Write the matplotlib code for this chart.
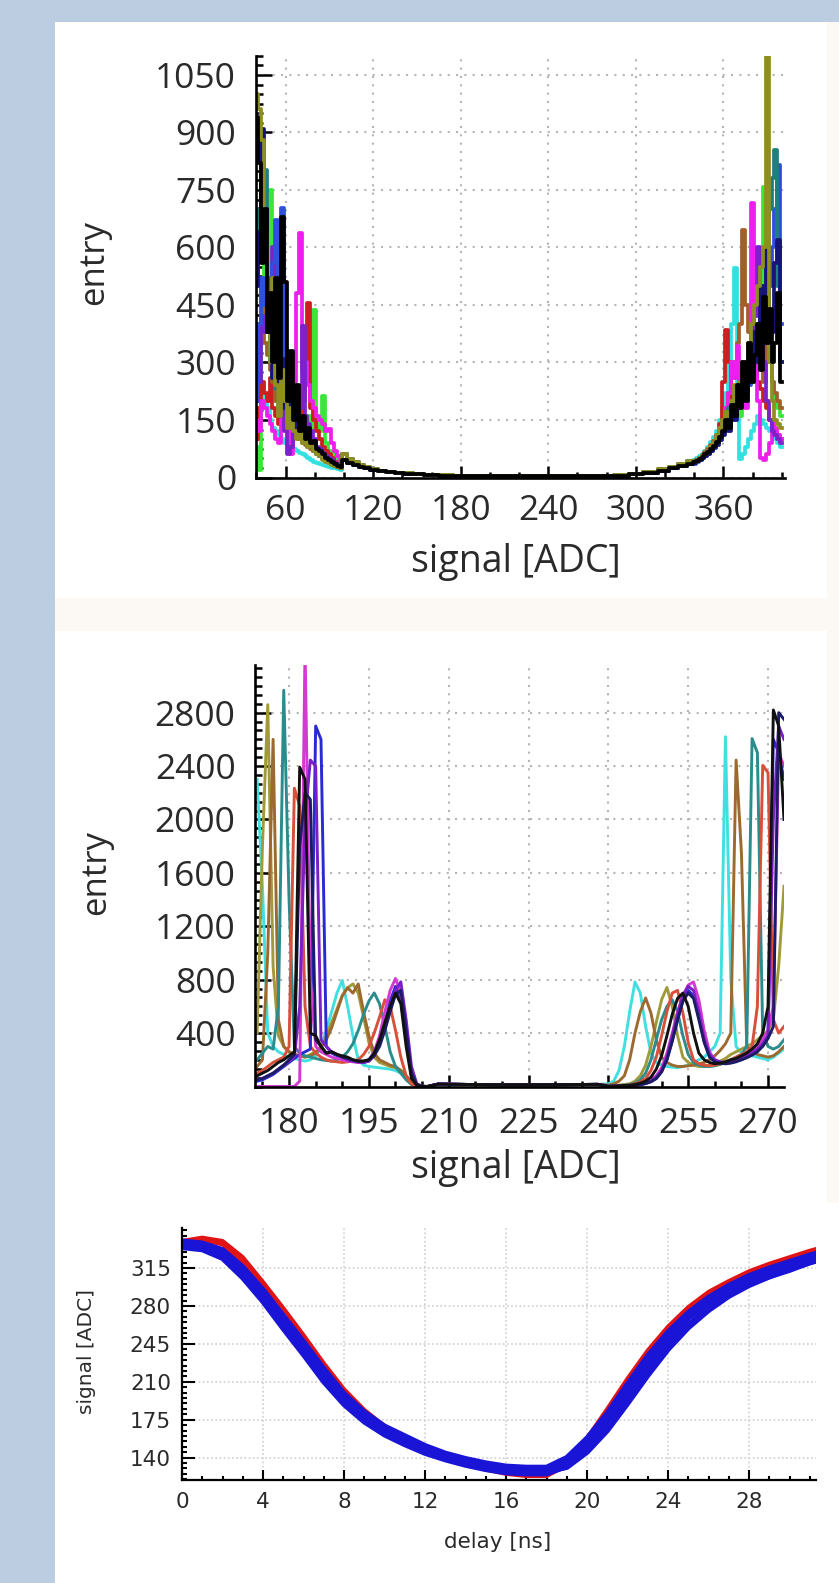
import numpy as np
import matplotlib
matplotlib.use("Agg")
import matplotlib.pyplot as plt
from matplotlib.patches import Rectangle
from matplotlib.ticker import MultipleLocator

# ---------------- data: panel 1 (signal histograms, wide range) ----------------
p1_x_left = np.arange(40, 100, 2)
p1_x_mid = [100, 104, 108, 112, 116, 120, 126, 132, 138, 144, 150, 160, 170, 180,
            200, 220, 240, 260, 280, 290, 300, 310, 320, 326, 332, 338]
p1_x_right = np.arange(340, 402, 2)
p1_mid_a = [45, 38, 32, 28, 24, 20, 16, 14, 12, 10, 8, 6, 5, 4, 3, 3, 3, 3, 4, 5, 8, 12, 18, 24, 30, 36]
p1_mid_b = [60, 48, 40, 33, 27, 23, 18, 15, 13, 11, 9, 7, 6, 5, 4, 4, 4, 4, 5, 7, 10, 15, 22, 28, 35, 42]

p1_cyan_l = [350, 300, 250, 200, 180, 150, 130, 120, 110, 100, 90, 85, 80, 75, 70, 65, 60, 55, 50, 45, 40, 38, 35, 32, 30, 28, 26, 24, 22, 20]
p1_cyan_r = [45, 50, 56, 62, 70, 80, 92, 106, 122, 150, 180, 220, 300, 400, 547, 200, 49, 60, 80, 100, 120, 140, 160, 150, 140, 130, 120, 110, 100, 90, 80]
p1_lime_l = [80, 20, 380, 600, 500, 749, 420, 300, 250, 200, 160, 220, 150, 130, 170, 120, 140, 110, 160, 120, 438, 150, 120, 213, 90, 70, 60, 50, 40, 35]
p1_lime_r = [42, 46, 52, 58, 64, 72, 82, 95, 110, 125, 140, 160, 150, 180, 200, 170, 160, 200, 240, 280, 300, 250, 350, 420, 758, 500, 300, 250, 200, 180, 160]
p1_red_l = [100, 180, 250, 220, 200, 260, 180, 160, 140, 170, 150, 130, 120, 140, 130, 160, 200, 250, 456, 180, 150, 120, 100, 80, 70, 60, 50, 40, 35, 30]
p1_red_r = [40, 45, 50, 56, 62, 70, 80, 92, 108, 140, 250, 386, 300, 200, 180, 220, 200, 240, 300, 260, 280, 300, 250, 230, 200, 180, 150, 140, 120, 110, 100]
p1_brown_l = [700, 500, 450, 350, 320, 280, 250, 200, 260, 180, 150, 170, 130, 120, 110, 100, 90, 85, 80, 75, 70, 60, 55, 50, 45, 40, 35, 30, 28, 25]
p1_brown_r = [42, 46, 52, 58, 66, 74, 84, 96, 112, 130, 150, 180, 220, 260, 300, 350, 400, 645, 450, 380, 320, 300, 350, 280, 250, 550, 300, 250, 220, 200, 180]
p1_magenta_l = [150, 120, 200, 180, 160, 140, 120, 100, 90, 150, 200, 160, 60, 250, 480, 637, 280, 300, 240, 200, 180, 160, 150, 140, 120, 127, 90, 70, 55, 45]
p1_magenta_r = [40, 44, 48, 54, 60, 68, 78, 90, 105, 120, 140, 180, 220, 300, 260, 343, 250, 200, 180, 300, 715, 400, 200, 50, 45, 60, 90, 150, 130, 110, 100]
p1_purple_l = [300, 250, 420, 380, 480, 520, 600, 400, 250, 180, 120, 60, 80, 150, 200, 180, 395, 160, 140, 120, 100, 80, 75, 65, 55, 50, 45, 38, 32, 28]
p1_purple_r = [38, 42, 46, 52, 58, 64, 72, 84, 98, 115, 130, 150, 170, 190, 210, 230, 200, 260, 300, 340, 380, 420, 602, 450, 300, 200, 150, 120, 110, 100, 90]
p1_blue_l = [200, 400, 520, 450, 380, 300, 560, 671, 300, 702, 280, 200, 240, 150, 170, 130, 120, 110, 100, 90, 85, 75, 65, 55, 50, 45, 40, 35, 30, 28]
p1_blue_r = [36, 40, 45, 50, 56, 62, 70, 80, 95, 110, 125, 140, 160, 180, 170, 200, 220, 210, 260, 240, 300, 320, 380, 420, 400, 450, 500, 600, 700, 814, 400]
p1_teal_l = [500, 700, 620, 801, 420, 300, 350, 230, 260, 180, 220, 160, 140, 150, 120, 110, 100, 90, 85, 80, 70, 60, 55, 50, 45, 40, 35, 30, 28, 25]
p1_teal_r = [38, 42, 48, 52, 58, 66, 75, 88, 100, 120, 140, 160, 180, 150, 200, 220, 190, 250, 230, 300, 280, 350, 400, 380, 500, 600, 700, 780, 853, 500, 300]
p1_navy_l = [500, 640, 909, 700, 380, 450, 260, 330, 200, 310, 180, 240, 150, 160, 120, 140, 100, 110, 90, 80, 70, 65, 55, 50, 45, 40, 35, 32, 28, 25]
p1_navy_r = [38, 42, 46, 50, 55, 60, 68, 76, 86, 98, 112, 140, 120, 170, 150, 210, 190, 260, 220, 300, 260, 380, 300, 500, 350, 600, 420, 380, 560, 620, 300]
p1_olive_l = [1000, 960, 880, 640, 420, 300, 520, 240, 160, 280, 200, 130, 180, 120, 100, 140, 90, 110, 80, 95, 70, 60, 55, 45, 40, 38, 32, 30, 27, 25]
p1_olive_r = [40, 44, 50, 55, 60, 70, 80, 90, 110, 130, 150, 170, 160, 200, 240, 180, 250, 300, 280, 350, 400, 450, 500, 550, 600, 1150, 300, 200, 150, 140, 130]
p1_black_l = [940, 820, 560, 700, 380, 480, 300, 520, 260, 680, 510, 200, 330, 150, 240, 120, 160, 100, 130, 90, 95, 75, 70, 60, 50, 45, 40, 35, 30, 28]
p1_black_r = [40, 44, 48, 54, 60, 66, 74, 82, 92, 105, 120, 150, 130, 190, 160, 240, 180, 300, 200, 350, 250, 320, 400, 280, 470, 350, 440, 300, 352, 480, 250]

p1_xticks = [60, 120, 180, 240, 300, 360]
p1_yticks = [0, 150, 300, 450, 600, 750, 900, 1050]

# ---------------- data: panel 2 (signal histograms, narrow range) ----------------
p2_x_left = np.arange(174, 207, 1)
p2_x_mid = [208, 214, 220, 226, 232, 238]
p2_x_right = np.arange(240, 274, 1)
p2_mid = [18, 15, 13, 13, 14, 16]

p2_cyan_l = [2300, 1500, 400, 300, 260, 240, 220, 210, 200, 190, 200, 230, 300, 420, 560, 700, 795, 600, 380, 200, 160, 150, 145, 140, 135, 130, 120, 100, 60, 20, 5, 0, 0]
p2_cyan_r = [20, 40, 120, 300, 560, 783, 700, 450, 250, 180, 160, 150, 145, 140, 150, 160, 180, 200, 220, 260, 300, 400, 2620, 800, 300, 250, 240, 230, 220, 210, 200, 220, 250, 280]
p2_olive_l = [400, 1800, 2860, 900, 380, 300, 260, 240, 230, 220, 240, 260, 300, 380, 480, 580, 680, 740, 768, 700, 520, 330, 220, 180, 165, 150, 140, 120, 80, 30, 8, 0, 0]
p2_olive_r = [5, 8, 10, 15, 20, 40, 80, 160, 300, 480, 650, 742, 600, 380, 220, 180, 160, 150, 150, 160, 170, 190, 210, 240, 260, 280, 300, 320, 350, 380, 420, 500, 900, 1500]
p2_brown_l = [150, 200, 1000, 2600, 500, 300, 260, 240, 230, 220, 230, 250, 290, 350, 440, 560, 680, 740, 700, 768, 560, 380, 250, 200, 180, 160, 150, 120, 80, 30, 8, 2, 0]
p2_brown_r = [10, 20, 40, 80, 200, 400, 560, 663, 550, 350, 220, 180, 160, 150, 150, 155, 160, 170, 180, 200, 230, 270, 320, 400, 2445, 1750, 300, 260, 240, 230, 220, 230, 260, 300]
p2_teal_l = [200, 250, 300, 280, 600, 2968, 1400, 300, 250, 230, 220, 210, 200, 195, 190, 200, 220, 260, 320, 420, 540, 640, 701, 620, 450, 260, 150, 100, 50, 15, 5, 0, 0]
p2_teal_r = [3, 5, 8, 10, 15, 25, 50, 100, 200, 350, 500, 600, 650, 560, 380, 240, 180, 160, 150, 150, 155, 165, 180, 200, 220, 240, 300, 2606, 2500, 400, 300, 280, 300, 350]
p2_red_l = [100, 120, 150, 180, 200, 220, 300, 2234, 2100, 600, 300, 250, 220, 200, 190, 185, 180, 185, 190, 200, 240, 300, 400, 520, 650, 600, 420, 220, 80, 20, 5, 0, 0]
p2_red_r = [2, 4, 6, 8, 12, 20, 35, 60, 120, 220, 380, 560, 700, 720, 550, 330, 200, 170, 160, 155, 160, 170, 185, 200, 220, 240, 260, 300, 600, 2405, 2350, 500, 400, 450]
p2_blue_l = [40, 50, 70, 90, 120, 150, 180, 210, 240, 260, 280, 2700, 2600, 300, 250, 230, 215, 200, 190, 180, 180, 190, 240, 340, 480, 640, 750, 650, 350, 80, 10, 0, 0]
p2_blue_r = [1, 2, 3, 4, 6, 9, 14, 22, 36, 60, 110, 200, 340, 500, 640, 720, 680, 520, 340, 230, 190, 180, 175, 180, 190, 200, 220, 240, 270, 310, 400, 2600, 2500, 2300]
p2_magenta_l = [0, 0, 0, 0, 0, 0, 0, 0, 40, 3300, 800, 300, 260, 240, 220, 210, 200, 190, 185, 180, 185, 200, 260, 380, 560, 720, 809, 700, 380, 80, 10, 0, 0]
p2_magenta_r = [1, 2, 3, 5, 8, 12, 20, 30, 50, 80, 140, 250, 400, 560, 680, 760, 783, 650, 420, 260, 200, 180, 175, 180, 190, 210, 230, 260, 300, 350, 420, 600, 2500, 2400]
p2_purple_l = [50, 60, 80, 100, 130, 160, 190, 220, 600, 2000, 2445, 2400, 350, 300, 260, 240, 220, 200, 190, 185, 180, 190, 230, 320, 450, 600, 720, 784, 500, 150, 20, 3, 0]
p2_purple_r = [1, 2, 3, 4, 6, 10, 15, 25, 40, 70, 120, 220, 380, 540, 680, 750, 720, 560, 360, 240, 200, 185, 180, 185, 195, 210, 230, 250, 280, 320, 380, 2000, 2700, 2600]
p2_navy_l = [50, 60, 80, 100, 130, 160, 200, 240, 1800, 2200, 2150, 350, 300, 250, 260, 240, 220, 210, 200, 190, 190, 200, 230, 300, 420, 560, 690, 720, 420, 100, 15, 0, 0]
p2_navy_r = [1, 2, 3, 4, 6, 9, 14, 22, 36, 60, 110, 200, 340, 500, 640, 700, 660, 500, 330, 220, 185, 175, 170, 175, 185, 200, 215, 235, 260, 300, 360, 450, 2800, 2750]
p2_black_l = [80, 100, 120, 150, 180, 200, 230, 260, 2392, 2300, 400, 380, 300, 250, 260, 240, 230, 220, 200, 190, 190, 200, 250, 350, 480, 600, 700, 620, 300, 60, 10, 2, 0]
p2_black_r = [2, 3, 5, 7, 10, 15, 25, 40, 70, 130, 230, 380, 540, 660, 700, 600, 400, 250, 200, 180, 170, 175, 185, 200, 210, 230, 250, 280, 320, 400, 600, 2820, 2700, 2000]

p2_xticks = [180, 195, 210, 225, 240, 255, 270]
p2_yticks = [400, 800, 1200, 1600, 2000, 2400, 2800]

# ---------------- data: panel 3 (pulse shapes) ----------------
p3_delay = np.arange(0, 33, 1)
p3_red_1 = [340, 343, 340, 325, 302, 278, 253, 227, 203, 184, 169, 159, 150, 142, 136, 131, 127, 124, 124, 135, 158, 185, 213, 239, 261, 279, 293, 303, 312, 319, 325, 331, 336]
p3_red_2 = [338, 341, 337, 320, 297, 272, 247, 221, 198, 180, 166, 156, 147, 140, 134, 129, 125, 123, 123, 133, 155, 181, 209, 235, 257, 275, 289, 300, 309, 316, 322, 328, 333]
p3_blue_up = [340, 338, 332, 316, 295, 271, 247, 222, 199, 182, 169, 160, 151, 144, 139, 135, 132, 131, 131, 140, 158, 181, 208, 234, 256, 274, 288, 299, 308, 315, 321, 327, 332]
p3_blue_mid = [337, 335, 328, 311, 289, 265, 241, 216, 194, 177, 165, 156, 148, 141, 136, 132, 129, 128, 128, 136, 153, 175, 202, 228, 250, 269, 283, 295, 304, 311, 317, 324, 329]
p3_blue_late = [336, 334, 327, 310, 288, 264, 240, 215, 193, 176, 164, 155, 147, 140, 135, 131, 128, 127, 127, 131, 145, 165, 190, 216, 240, 260, 276, 289, 299, 307, 314, 320, 326]
p3_blue_down = [334, 332, 324, 306, 284, 259, 235, 210, 189, 173, 161, 152, 144, 138, 133, 129, 126, 125, 125, 132, 148, 169, 195, 221, 244, 263, 278, 290, 300, 307, 313, 320, 325]

p3_xticks = [0, 4, 8, 12, 16, 20, 24, 28]
p3_yticks = [140, 175, 210, 245, 280, 315]

# ---------------- figure ----------------
W, H = 839, 1583
fig = plt.figure(figsize=(W / 100, H / 100), dpi=100)
fig.patch.set_facecolor('#bccde1')
TXT = '#2a2a2a'


def frect(x0, y0, x1, y1, color):
    fig.add_artist(Rectangle((x0 / W, 1 - y1 / H), (x1 - x0) / W, (y1 - y0) / H,
                             transform=fig.transFigure, facecolor=color,
                             edgecolor='none', zorder=0))


frect(55, 22, W, H, 'white')
frect(55, 598, W, 631, '#fcf8f3')
frect(827, 22, W, 598, '#fcf8f3')
frect(827, 631, W, 1203, '#fcf8f3')


def make_axes(left, top, right, bottom):
    ax = fig.add_axes([left / W, 1 - bottom / H, (right - left) / W, (bottom - top) / H])
    ax.set_facecolor('none')
    for s in ('top', 'right'):
        ax.spines[s].set_visible(False)
    ax.set_axisbelow(True)
    return ax


def ftext(x, y, s, **kw):
    fig.text(x / W, 1 - y / H, s, ha='center', va='center', color=TXT, **kw)


def style_hist_axes(ax, xticks, yticks, xminor, yminor, xlim, ylim, xpad):
    ax.set_xlim(*xlim)
    ax.set_ylim(*ylim)
    ax.set_xticks(xticks, [str(v) for v in xticks], fontfamily='Open Sans', fontsize=25.5, color=TXT)
    ax.set_yticks(yticks, [str(v) for v in yticks], fontfamily='Open Sans', fontsize=25.5, color=TXT)
    ax.xaxis.set_minor_locator(MultipleLocator(xminor))
    ax.yaxis.set_minor_locator(MultipleLocator(yminor))
    for s in ('left', 'bottom'):
        ax.spines[s].set_linewidth(1.9)
    ax.tick_params(which='both', direction='in', width=1.8, color='black')
    ax.tick_params(axis='y', which='major', length=11.5, pad=14)
    ax.tick_params(axis='y', which='minor', length=5)
    ax.tick_params(axis='x', which='major', length=8.5, pad=xpad)
    ax.tick_params(axis='x', which='minor', length=4.3)
    ax.grid(True, which='major', color='#b5b5b5', linestyle=(0, (1, 3)), linewidth=1.5)


# ---- panel 1 ----
ax1 = make_axes(255.5, 55.8, 785, 477.5)
p1_x = np.concatenate([p1_x_left, p1_x_mid, p1_x_right])
p1_series = [
    ('#33e0e0', p1_cyan_l, p1_mid_a, p1_cyan_r),
    ('#39e639', p1_lime_l, p1_mid_b, p1_lime_r),
    ('#cc1f1f', p1_red_l, p1_mid_a, p1_red_r),
    ('#a0602a', p1_brown_l, p1_mid_b, p1_brown_r),
    ('#ee1fee', p1_magenta_l, p1_mid_b, p1_magenta_r),
    ('#7a22cc', p1_purple_l, p1_mid_a, p1_purple_r),
    ('#2f4fe0', p1_blue_l, p1_mid_a, p1_blue_r),
    ('#1f7f7f', p1_teal_l, p1_mid_b, p1_teal_r),
    ('#14147a', p1_navy_l, p1_mid_a, p1_navy_r),
    ('#8f8f1f', p1_olive_l, p1_mid_b, p1_olive_r),
    ('#000000', p1_black_l, p1_mid_a, p1_black_r),
]
for col, yl, ym, yr in p1_series:
    ax1.plot(p1_x, np.concatenate([yl, ym, yr]), drawstyle='steps-mid', color=col, lw=2.7)
style_hist_axes(ax1, p1_xticks, p1_yticks, 20, 25, (39.4, 402.2), (0, 1100), 12)
ftext(516, 562, 'signal [ADC]', fontfamily='Open Sans', fontsize=27)
ftext(94, 263, 'entry', fontfamily='Open Sans', fontsize=25, rotation=90)

# ---- panel 2 ----
ax2 = make_axes(255, 665, 784, 1086.5)
p2_x = np.concatenate([p2_x_left, p2_x_mid, p2_x_right])
p2_series = [
    ('#40e0e0', p2_cyan_l, p2_cyan_r),
    ('#a09a3a', p2_olive_l, p2_olive_r),
    ('#9c6a2e', p2_brown_l, p2_brown_r),
    ('#2a8c8c', p2_teal_l, p2_teal_r),
    ('#d9503a', p2_red_l, p2_red_r),
    ('#2a2ad4', p2_blue_l, p2_blue_r),
    ('#d23ad2', p2_magenta_l, p2_magenta_r),
    ('#7b1fc4', p2_purple_l, p2_purple_r),
    ('#1c1c66', p2_navy_l, p2_navy_r),
    ('#111111', p2_black_l, p2_black_r),
]
for col, yl, yr in p2_series:
    ax2.plot(p2_x, np.concatenate([yl, p2_mid, yr]), color=col, lw=2.1)
style_hist_axes(ax2, p2_xticks, p2_yticks, 5, 400 / 6, (173.6, 273.0), (0, 3157), 14.5)
ftext(516, 1168, 'signal [ADC]', fontfamily='Open Sans', fontsize=27)
ftext(96, 873, 'entry', fontfamily='Open Sans', fontsize=25, rotation=90)

# ---- panel 3 ----
ax3 = make_axes(182, 1228, 816, 1480)
for ys in (p3_red_1, p3_red_2):
    ax3.plot(p3_delay, ys, color='#e01414', lw=3.0, solid_capstyle='butt')
for ys in (p3_blue_up, p3_blue_mid, p3_blue_late, p3_blue_down):
    ax3.plot(p3_delay, ys, color='#1a14d6', lw=3.8, solid_capstyle='butt')
ax3.set_xlim(0, 31.3)
ax3.set_ylim(119.3, 352)
ax3.set_xticks(p3_xticks, [str(v) for v in p3_xticks], fontfamily='DejaVu Sans', fontsize=15.5, color=TXT)
ax3.set_yticks(p3_yticks, [str(v) for v in p3_yticks], fontfamily='DejaVu Sans', fontsize=15.5, color=TXT)
ax3.xaxis.set_minor_locator(MultipleLocator(1))
ax3.yaxis.set_minor_locator(MultipleLocator(5))
for s in ('left', 'bottom'):
    ax3.spines[s].set_linewidth(1.6)
ax3.tick_params(which='both', direction='in', width=1.5, color='black')
ax3.tick_params(axis='y', which='major', length=9, pad=8)
ax3.tick_params(axis='y', which='minor', length=3.5)
ax3.tick_params(axis='x', which='major', length=7, pad=9)
ax3.tick_params(axis='x', which='minor', length=3)
ax3.grid(True, which='major', color='#cfcfcf', linestyle=(0, (1, 1.5)), linewidth=1.2)
ftext(498, 1542, 'delay [ns]', fontfamily='DejaVu Sans', fontsize=15.5)
ftext(86, 1351, 'signal [ADC]', fontfamily='DejaVu Sans', fontsize=14.5, rotation=90)

fig.savefig('out.png', dpi=100, facecolor=fig.get_facecolor())
